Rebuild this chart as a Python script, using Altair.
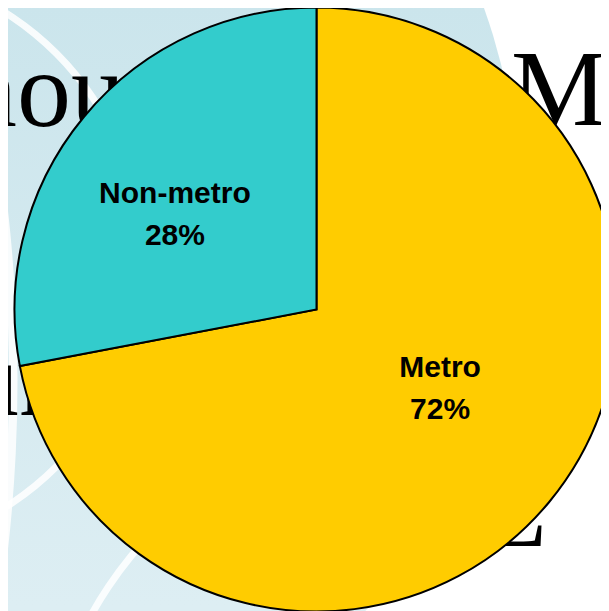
import math
import altair as alt
import pandas as pd

# ---- data ----
categories = ["Metro", "Non-metro"]
shares = [72, 28]
labels = ["Metro\n72%", "Non-metro\n28%"]
slice_colors = ["#FFCC00", "#33CCCC"]

# background slide text fragments (partly hidden behind the pie)
bg_texts = ["nou", "M", "un", "L"]

df = pd.DataFrame({"category": categories, "share": shares, "label": labels})

W, H = 593, 603
CX, CY = 308.5, 301.5
R = 302

one = pd.DataFrame({"k": [0]})
TWO_PI = 2 * math.pi

# ---- background: light blue slide disc with soft white rings ----
bg_disc = alt.Chart(one).mark_arc(
    theta=0, theta2=TWO_PI, innerRadius=0, outerRadius=600,
    color=alt.Gradient(
        gradient="linear",
        stops=[alt.GradientStop(offset=0.33, color="#cbe5ec"),
               alt.GradientStop(offset=0.83, color="#ddeef3")],
        x1=0, x2=0, y1=0, y2=1),
).encode(x=alt.value(-89), y=alt.value(202))


def ring(cx, cy, r, w=7):
    return alt.Chart(one).mark_arc(
        theta=0, theta2=TWO_PI, innerRadius=r - w / 2, outerRadius=r + w / 2,
        color="white", opacity=0.85,
    ).encode(x=alt.value(cx), y=alt.value(cy))


rings = [ring(-158, 252, 292), ring(-1495, 372, 1500, 8), ring(433, 801, 400)]


def bg_text(t, x, y):
    return alt.Chart(one).mark_text(
        text=t, font="Liberation Serif", fontSize=108, align="left",
        baseline="alphabetic", color="black",
    ).encode(x=alt.value(x), y=alt.value(y))


bg_words = [
    bg_text(bg_texts[0], -45, 118),
    bg_text(bg_texts[1], 503, 117),
    bg_text(bg_texts[2], -43, 407),
    bg_text(bg_texts[3], 474, 538),
]

# ---- pie ----
pie = alt.Chart(df).mark_arc(
    outerRadius=R, stroke="black", strokeWidth=2
).encode(
    theta=alt.Theta("share:Q", stack=True),
    color=alt.Color("category:N",
                    scale=alt.Scale(domain=categories, range=slice_colors),
                    legend=None),
    order=alt.Order("share:Q", sort="descending"),
    x=alt.value(CX), y=alt.value(CY),
)


def label_layer(cat, radius, dx, dy):
    return alt.Chart(df).transform_window(
        cum="sum(share)"
    ).transform_calculate(
        mid="datum.cum - datum.share / 2"
    ).transform_filter(
        alt.datum.category == cat
    ).mark_text(
        radius=radius, dx=dx, dy=dy, font="Liberation Sans", fontWeight="bold",
        fontSize=30, lineBreak="\n", lineHeight=42, align="center",
        baseline="middle", color="black",
    ).encode(
        theta=alt.Theta("mid:Q", stack=False,
                        scale=alt.Scale(domain=[0, 100], range=[0, TWO_PI])),
        text="label:N",
        x=alt.value(CX), y=alt.value(CY),
    )


texts = [label_layer("Metro", 150, 8, -37), label_layer("Non-metro", 150, -26, -20)]

chart = alt.layer(bg_disc, *rings, *bg_words, pie, *texts).properties(
    width=W, height=H,
    autosize=alt.AutoSizeParams(type="none"),
    padding=0,
).configure_view(strokeWidth=0)

chart.save("out.html", embed_options={"renderer": "svg", "actions": False})
